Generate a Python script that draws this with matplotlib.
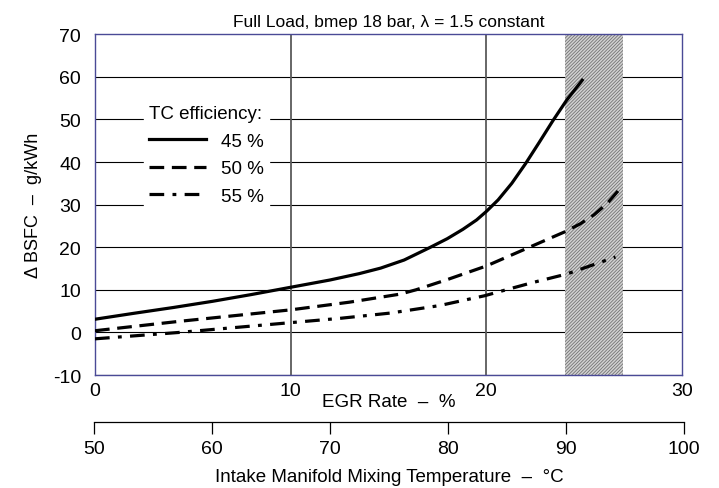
import numpy as np
import matplotlib.pyplot as plt

plt.rcParams['font.family'] = ['Liberation Sans', 'DejaVu Sans']
plt.rcParams['axes.unicode_minus'] = False
plt.rcParams['hatch.linewidth'] = 0.6

# curves: EGR rate (%) -> delta BSFC (g/kWh)
egr_45 = [0, 2, 4, 6, 8, 10, 12, 13.5, 14.6, 15.8, 17.1, 18, 18.8, 19.5, 20, 20.6,
          21.3, 22, 22.7, 23.4, 24.1, 24.9]
bsfc_45 = [3.1, 4.5, 5.85, 7.3, 8.9, 10.6, 12.3, 13.8, 15.1, 17.0, 19.9, 22.0, 24.2, 26.4,
           28.4, 31.1, 35.0, 39.6, 44.6, 49.7, 54.5, 59.2]

egr_50 = [0, 4.3, 10, 13, 15.6, 16.4, 18, 20, 21.4, 22.4, 24, 24.8, 25.5, 26.2, 26.8]
bsfc_50 = [0.4, 2.6, 5.3, 7.1, 9.0, 10.0, 12.4, 15.6, 18.4, 20.4, 23.6, 25.5, 27.6, 30.4, 33.6]

egr_55 = [0, 4.3, 10, 12.5, 15.1, 17.6, 19.9, 21, 22.4, 24.1, 26.6]
bsfc_55 = [-1.5, 0.0, 2.3, 3.3, 4.55, 6.3, 8.6, 10.0, 11.75, 13.7, 17.7]

labels = ['45 %', '50 %', '55 %']
limit_band = (24, 27)

fig = plt.figure(figsize=(7.19, 4.89), dpi=100)
ax = fig.add_axes([0.1321, 0.231, 0.8165, 0.697])

spine_col = '#4a4a96'
for s in ax.spines.values():
    s.set_color(spine_col)
    s.set_linewidth(1.0)

ax.set_xlim(0, 30)
ax.set_ylim(-10, 70)
ax.set_xticks([0, 10, 20, 30])
ax.set_yticks(np.arange(-10, 71, 10))
ax.tick_params(axis='both', length=0, labelsize=14)
ax.tick_params(axis='x', pad=5)
ax.tick_params(axis='y', pad=10)

# grid
for yv in range(-10, 70, 10):
    ax.axhline(yv, color='black', lw=0.8, zorder=1)
for xv in (10, 20):
    ax.axvline(xv, color='#5a5a5a', lw=1.3, zorder=1)

ax.axvspan(limit_band[0], limit_band[1], facecolor='#d2d2d2', edgecolor='#737373',
           hatch='//////////', lw=0, zorder=2)

# curves
ax.plot(egr_45, bsfc_45, color='black', lw=2.3, ls='-', label=labels[0], zorder=3)
ax.plot(egr_50, bsfc_50, color='black', lw=2.3, ls=(0, (4.6, 2.4)), label=labels[1], zorder=3)
ax.plot(egr_55, bsfc_55, color='black', lw=2.3, ls=(0, (4.6, 2.6, 1.2, 2.6)), label=labels[2], zorder=3)

leg = ax.legend(loc='upper left', bbox_to_anchor=(0.083, 0.808), title='TC efficiency:',
                fontsize=13.5, title_fontsize=13.5, frameon=True, fancybox=False,
                edgecolor='white', framealpha=1, handlelength=3.0, labelspacing=0.55,
                borderaxespad=0, handletextpad=0.8, borderpad=0.3)
leg._legend_box.align = 'left'
leg.set_zorder(4)

ax.set_title('Full Load, bmep 18 bar, λ = 1.5 constant', fontsize=12.5, pad=6)
ax.set_ylabel('Δ BSFC  –  g/kWh', fontsize=13, labelpad=8)
ax.set_xlabel('EGR Rate  –  %', fontsize=13.5)
ax.xaxis.set_label_coords(0.5, -0.078)
ax.xaxis.label.set_va('center')

# second x scale: intake manifold mixing temperature
temp_ticks = [50, 60, 70, 80, 90, 100]
ax2 = fig.add_axes([0.1307, 0.134, 0.8206, 0.001])
ax2.set_xlim(50, 100)
ax2.set_xticks(temp_ticks)
ax2.set_yticks([])
for side in ('top', 'left', 'right'):
    ax2.spines[side].set_visible(False)
ax2.spines['bottom'].set_color('black')
ax2.spines['bottom'].set_linewidth(0.9)
ax2.patch.set_visible(False)
ax2.tick_params(axis='x', direction='out', length=8.5, width=0.9, labelsize=14, pad=4)
ax2.set_xlabel('Intake Manifold Mixing Temperature  –  °C', fontsize=13.5, labelpad=8)

fig.savefig('out.png', dpi=100)
